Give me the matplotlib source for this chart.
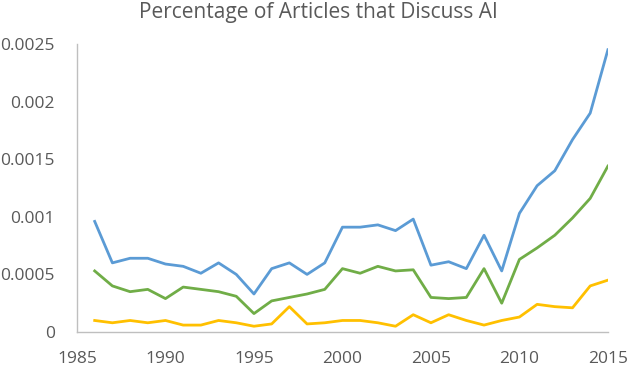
import matplotlib
matplotlib.use("Agg")
import matplotlib.pyplot as plt

years = list(range(1986, 2016))
blue = [0.00096, 0.00060, 0.00064, 0.00064, 0.00059, 0.00057, 0.00051, 0.00060, 0.00050, 0.00033,
        0.00055, 0.00060, 0.00050, 0.00060, 0.00091, 0.00091, 0.00093, 0.00088, 0.00098, 0.00058,
        0.00061, 0.00055, 0.00084, 0.00053, 0.00103, 0.00127, 0.00140, 0.00167, 0.00190, 0.00245]
green = [0.00053, 0.00040, 0.00035, 0.00037, 0.00029, 0.00039, 0.00037, 0.00035, 0.00031, 0.00016,
         0.00027, 0.00030, 0.00033, 0.00037, 0.00055, 0.00051, 0.00057, 0.00053, 0.00054, 0.00030,
         0.00029, 0.00030, 0.00055, 0.00025, 0.00063, 0.00073, 0.00084, 0.00099, 0.00116, 0.00144]
yellow = [0.00010, 0.00008, 0.00010, 0.00008, 0.00010, 0.00006, 0.00006, 0.00010, 0.00008, 0.00005,
          0.00007, 0.00022, 0.00007, 0.00008, 0.00010, 0.00010, 0.00008, 0.00005, 0.00015, 0.00008,
          0.00015, 0.00010, 0.00006, 0.00010, 0.00013, 0.00024, 0.00022, 0.00021, 0.00040, 0.00045]
x_ticks = [1985, 1990, 1995, 2000, 2005, 2010, 2015]
y_ticks = [0, 0.0005, 0.001, 0.0015, 0.002, 0.0025]
y_labels = ["0", "0.0005", "0.001", "0.0015", "0.002", "0.0025"]
title = "Percentage of Articles that Discuss AI"

plt.rcParams['font.family'] = ['Open Sans', 'DejaVu Sans']
fig = plt.figure(figsize=(6.28, 3.66), dpi=100)
ax = fig.add_axes([0.1226, 0.0929, 0.968 - 0.1226, 0.8798 - 0.0929])

ax.plot(years, blue, color="#5B9BD5", lw=2.0, solid_joinstyle="round")
ax.plot(years, green, color="#70AD47", lw=2.0, solid_joinstyle="round")
ax.plot(years, yellow, color="#FFC000", lw=2.0, solid_joinstyle="round")

ax.set_xlim(1985, 2015)
ax.set_ylim(0, 0.0025)
ax.set_xticks(x_ticks)
ax.set_xticklabels([str(t) for t in x_ticks])
ax.set_yticks(y_ticks)
ax.set_yticklabels(y_labels)
ax.tick_params(axis="both", length=0, labelsize=12.5, colors="#595959")
ax.tick_params(axis="x", pad=14)
ax.tick_params(axis="y", pad=16)
for s in ["top", "right"]:
    ax.spines[s].set_visible(False)
for s in ["left", "bottom"]:
    ax.spines[s].set_color("#BFBFBF")
    ax.spines[s].set_linewidth(1.0)

fig.text(0.507, 0.965, title, ha="center", va="center", fontsize=15, color="#595959")

fig.savefig("out.png", dpi=100)
